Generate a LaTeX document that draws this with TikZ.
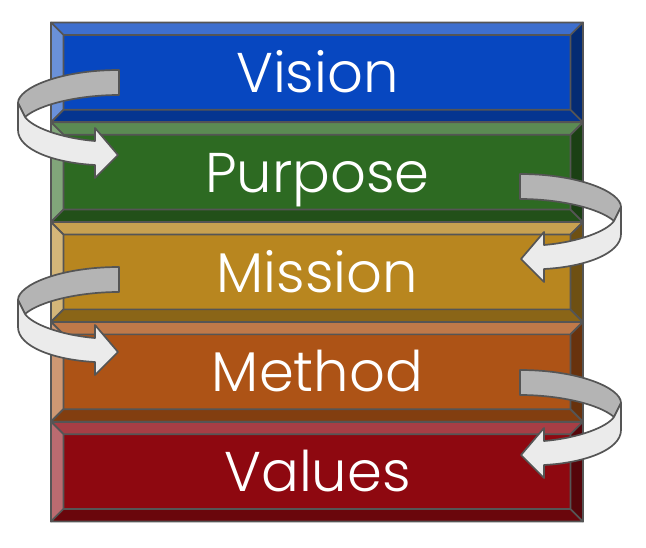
\documentclass[tikz,border=0pt]{standalone}
\usepackage{fontspec}
\setmainfont{Poppins}[UprightFont=* Light]
\usepackage{xcolor}
\usepackage{tikz}
\usetikzlibrary{calc}
\definecolor{LayBlue}{HTML}{0747C0}
\definecolor{LayGreen}{HTML}{2D6A22}
\definecolor{LayGold}{HTML}{B8861F}
\definecolor{LayRust}{HTML}{AD5316}
\definecolor{LayRed}{HTML}{8E0810}
\definecolor{EdgeGray}{HTML}{555555}
\definecolor{RibBack}{HTML}{B4B4B4}
\definecolor{RibFront}{HTML}{EBEBEB}

\begin{document}
\begin{tikzpicture}[x=1pt, y=-1pt, line join=round,
  bevel/.style={draw=EdgeGray, line width=1.7pt},
  layertext/.style={anchor=base, text=white, inner sep=0pt, font=\fontsize{56}{62}\selectfont},
  ribbon/.style={draw=EdgeGray, line width=1.7pt},
  turnarrow/.pic={
    \filldraw[ribbon, fill=RibBack] (0,0) .. controls (-59,0) and (-101,18) .. (-101,33)
      -- (-94,47) .. controls (-79,34) and (-39,25) .. (0,25) -- cycle;
    \filldraw[ribbon, fill=RibFront] (-101,33) -- (-101,60) .. controls (-101,80) and (-64,93) .. (-24,95)
      -- (-24,108) -- (-1,85) -- (-24,58) -- (-24,71) .. controls (-59,68) and (-87,57) .. (-94,47) -- cycle;
  }]

\useasboundingbox (0,0) rectangle (646,548);

\foreach \i/\col/\txt/\nm in {0/LayBlue/Vision/vision, 1/LayGreen/Purpose/purpose, 2/LayGold/Mission/mission, 3/LayRust/Method/method, 4/LayRed/Values/values}{
  \pgfmathsetmacro{\ty}{22.5+99.8*\i}
  \pgfmathsetmacro{\by}{\ty+99.8}
  \pgfmathsetmacro{\ity}{\ty+12.5}
  \pgfmathsetmacro{\iby}{\by-12.5}
  \fill[\col] (51,\ty) rectangle (583,\by);
  \filldraw[bevel, fill=\col!78!white] (51,\ty) -- (583,\ty) -- (570.5,\ity) -- (63.5,\ity) -- cycle;
  \filldraw[bevel, fill=\col!60!white] (51,\ty) -- (63.5,\ity) -- (63.5,\iby) -- (51,\by) -- cycle;
  \filldraw[bevel, fill=\col!75!black] (51,\by) -- (63.5,\iby) -- (570.5,\iby) -- (583,\by) -- cycle;
  \filldraw[bevel, fill=\col!60!black] (583,\ty) -- (570.5,\ity) -- (570.5,\iby) -- (583,\by) -- cycle;
  \draw[bevel] (51,\ty) rectangle (583,\by);
  \node[layertext] (\nm) at (317.5,\ty+70) {\txt};
}

% turning arrows
\pic at (119,70) {turnarrow};
\pic at (119,267) {turnarrow};
\pic[xscale=-1] at (520,174) {turnarrow};
\pic[xscale=-1] at (520,370) {turnarrow};
\end{tikzpicture}
\end{document}
